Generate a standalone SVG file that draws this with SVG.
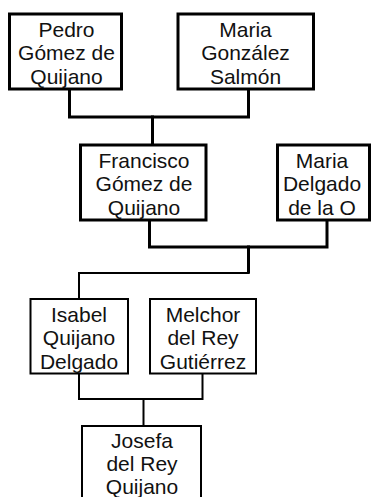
<svg xmlns="http://www.w3.org/2000/svg" width="371" height="497" viewBox="0 0 371 497">
<style>
  .box { fill: #ffffff; stroke: #000000; }
  .thick { stroke-width: 3; }
  .thin { stroke-width: 2; }
  .lbl { font-family: "Liberation Sans", Arial, sans-serif; font-size: 21px; fill: #111111; text-anchor: middle; }
  .wire { fill: none; stroke: #000000; stroke-linejoin: miter; stroke-linecap: square; }
</style>
<rect x="0" y="0" width="371" height="497" fill="#ffffff"/>
<g id="connectors">
  <path class="wire thick" d="M69.5 89 V117 H248.5 V89"/>
  <path class="wire thick" d="M152.5 117 V145"/>
  <path class="wire thick" d="M149.5 220 V247 H327 V220"/>
  <path class="wire thick" d="M248.5 247 V272"/>
  <path class="wire thin" d="M248.5 272 V273 H79 V299"/>
  <path class="wire thin" d="M79 373.5 V399 H202.5 V373.5"/>
  <path class="wire thin" d="M143.5 399 V426"/>
</g>
<g id="pedro">
  <rect class="box thick" x="9.5" y="14" width="112" height="75"/>
  <text class="lbl" x="66.5" y="36.5">Pedro</text>
  <text class="lbl" x="66.5" y="60">Gómez de</text>
  <text class="lbl" x="66.5" y="83.5">Quijano</text>
</g>
<g id="maria-gonzalez">
  <rect class="box thick" x="178" y="14" width="135.5" height="75"/>
  <text class="lbl" x="245.5" y="36.5">Maria</text>
  <text class="lbl" x="245.5" y="60">González</text>
  <text class="lbl" x="245.5" y="83.5">Salmón</text>
</g>
<g id="francisco">
  <rect class="box thick" x="80.5" y="145" width="125.5" height="75"/>
  <text class="lbl" x="144" y="167.5">Francisco</text>
  <text class="lbl" x="144" y="191">Gómez de</text>
  <text class="lbl" x="144" y="214.5">Quijano</text>
</g>
<g id="maria-delgado">
  <rect class="box thick" x="277.5" y="145" width="92" height="75"/>
  <text class="lbl" x="322" y="167.5">Maria</text>
  <text class="lbl" x="322" y="191">Delgado</text>
  <text class="lbl" x="322" y="214.5">de la O</text>
</g>
<g id="isabel">
  <rect class="box thin" x="30.5" y="299" width="97.5" height="74.5"/>
  <text class="lbl" x="79" y="321.5">Isabel</text>
  <text class="lbl" x="79" y="345">Quijano</text>
  <text class="lbl" x="79" y="368.5">Delgado</text>
</g>
<g id="melchor">
  <rect class="box thin" x="150" y="299" width="106" height="74.5"/>
  <text class="lbl" x="203" y="321.5">Melchor</text>
  <text class="lbl" x="203" y="345">del Rey</text>
  <text class="lbl" x="203" y="368.5">Gutiérrez</text>
</g>
<g id="josefa">
  <rect class="box thin" x="82" y="426" width="119" height="80"/>
  <text class="lbl" x="142" y="447.5">Josefa</text>
  <text class="lbl" x="142" y="471">del Rey</text>
  <text class="lbl" x="142" y="494">Quijano</text>
</g>
</svg>
